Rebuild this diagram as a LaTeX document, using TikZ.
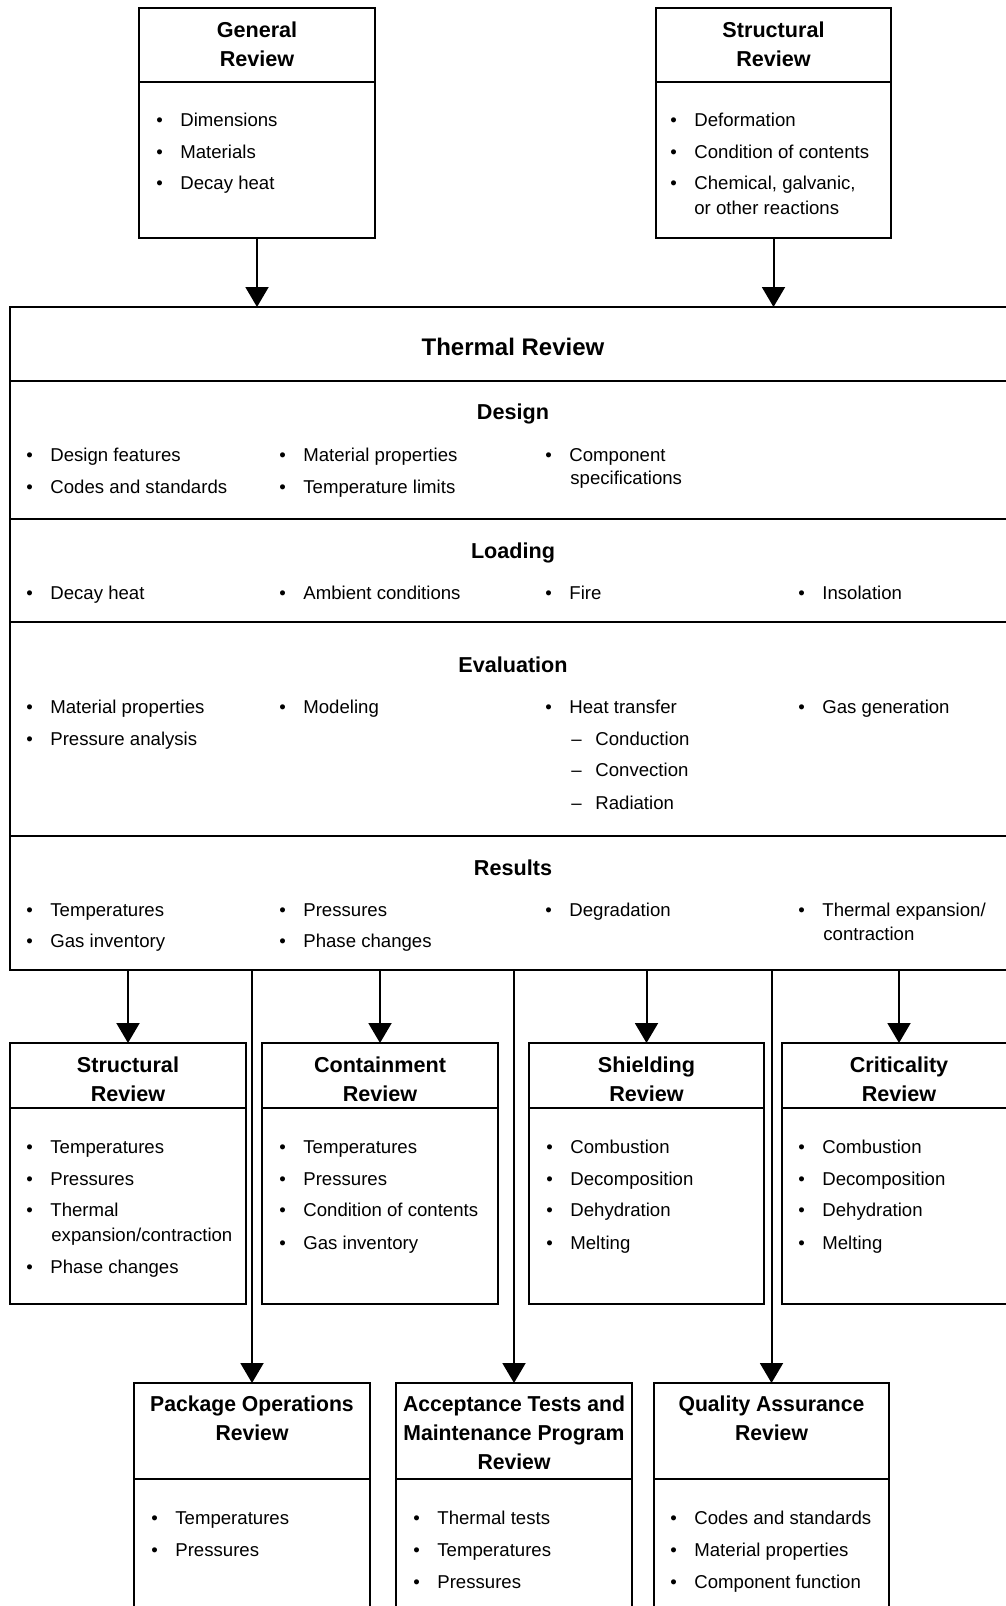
\documentclass[tikz,border=0pt]{standalone}
\usepackage{fontspec}
\setmainfont{Liberation Sans}
\newfontfamily\narrowsans[FakeStretch=0.98]{Liberation Sans}
\usetikzlibrary{arrows.meta}
\newcommand\bitem{\makebox[12pt][l]{\textbullet}}
\newcommand\ditem{\makebox[12pt][l]{\textendash}}
\begin{document}
\begin{tikzpicture}[x=0.5pt,y=-0.5pt,
 box/.style={draw, line width=1.2pt, rectangle, anchor=north west, inner sep=0, outer sep=0},
 hd/.style={anchor=base, inner sep=0, font=\fontsize{10.8}{13}\selectfont\bfseries},
 hdn/.style={anchor=base, inner sep=0, font=\fontsize{10.8}{13}\selectfont\narrowsans\bfseries},
 ttl/.style={anchor=base, inner sep=0, font=\fontsize{12}{14}\selectfont\bfseries},
 it/.style={anchor=base west, inner sep=0, font=\fontsize{9.3}{11}\selectfont},
 div/.style={line width=1.2pt},
 arr/.style={line width=1pt, -{Triangle[width=11.5pt,length=10pt]}},
]
\useasboundingbox (0,0) rectangle (1006,1606);
\clip (0,0) rectangle (1006,1606);
\fill[white] (0,0) rectangle (1006,1606);

% ---------- top boxes ----------
\node[box, minimum width=118pt, minimum height=115pt] (gen) at (139,8) {};
\draw[div] (139,82) -- (375,82);
\node[hd] (genh1) at (257,38) {General};
\node[hd] (genh2) at (257,66) {Review};
\node[it] (gen1) at (156,126) {\bitem Dimensions};
\node[it] (gen2) at (156,158) {\bitem Materials};
\node[it] (gen3) at (156,189) {\bitem Decay heat};

\node[box, minimum width=117.5pt, minimum height=115pt] (str) at (656,8) {};
\draw[div] (656,82) -- (891,82);
\node[hd] (strh1) at (773.5,38) {Structural};
\node[hd] (strh2) at (773.5,66) {Review};
\node[it] (str1) at (670,126) {\bitem Deformation};
\node[it] (str2) at (670,158) {\bitem Condition of contents};
\node[it] (str3) at (670,189) {\bitem Chemical, galvanic,};
\node[it] (str3b) at (694,214) {or other reactions};

% ---------- main thermal box ----------
\node[box, minimum width=503pt, minimum height=331.5pt] (main) at (10,307) {};
\draw[div] (10,381) -- (1016,381);
\draw[div] (10,519) -- (1016,519);
\draw[div] (10,622) -- (1016,622);
\draw[div] (10,836) -- (1016,836);
\node[ttl] (mainh) at (513,355) {Thermal Review};

\node[hd] (desh) at (513,419) {Design};
\node[it] (des1) at (26,461) {\bitem Design features};
\node[it] (des2) at (26,493) {\bitem Codes and standards};
\node[it] (des3) at (279,461) {\bitem Material properties};
\node[it] (des4) at (279,493) {\bitem Temperature limits};
\node[it] (des5) at (545,461) {\bitem Component};
\node[it] (des5b) at (570,484) {specifications};

\node[hd] (loah) at (513,558) {Loading};
\node[it] (loa1) at (26,599) {\bitem Decay heat};
\node[it] (loa2) at (279,599) {\bitem Ambient conditions};
\node[it] (loa3) at (545,599) {\bitem Fire};
\node[it] (loa4) at (798,599) {\bitem Insolation};

\node[hd] (evah) at (513,672) {Evaluation};
\node[it] (eva1) at (26,713) {\bitem Material properties};
\node[it] (eva2) at (26,745) {\bitem Pressure analysis};
\node[it] (eva3) at (279,713) {\bitem Modeling};
\node[it] (eva4) at (545,713) {\bitem Heat transfer};
\node[it] (eva5) at (571,745) {\ditem Conduction};
\node[it] (eva6) at (571,776) {\ditem Convection};
\node[it] (eva7) at (571,809) {\ditem Radiation};
\node[it] (eva8) at (798,713) {\bitem Gas generation};

\node[hd] (resh) at (513,875) {Results};
\node[it] (res1) at (26,916) {\bitem Temperatures};
\node[it] (res2) at (26,947) {\bitem Gas inventory};
\node[it] (res3) at (279,916) {\bitem Pressures};
\node[it] (res4) at (279,947) {\bitem Phase changes};
\node[it] (res5) at (545,916) {\bitem Degradation};
\node[it] (res6) at (798,916) {\bitem Thermal expansion/};
\node[it] (res6b) at (823,940) {contraction};

% ---------- middle boxes ----------
\node[box, minimum width=118pt, minimum height=130.5pt] (ms) at (10,1043) {};
\draw[div] (10,1108) -- (246,1108);
\node[hd] (msh1) at (128,1072) {Structural};
\node[hd] (msh2) at (128,1101) {Review};
\node[it] (ms1) at (26,1153) {\bitem Temperatures};
\node[it] (ms2) at (26,1185) {\bitem Pressures};
\node[it] (ms3) at (26,1216.5) {\bitem Thermal};
\node[it] (ms3b) at (51,1241) {expansion/contraction};
\node[it] (ms4) at (26,1273) {\bitem Phase changes};

\node[box, minimum width=118pt, minimum height=130.5pt] (mc) at (262,1043) {};
\draw[div] (262,1108) -- (498,1108);
\node[hd] (mch1) at (380,1072) {Containment};
\node[hd] (mch2) at (380,1101) {Review};
\node[it] (mc1) at (279,1153) {\bitem Temperatures};
\node[it] (mc2) at (279,1185) {\bitem Pressures};
\node[it] (mc3) at (279,1216.5) {\bitem Condition of contents};
\node[it] (mc4) at (279,1249) {\bitem Gas inventory};

\node[box, minimum width=117.5pt, minimum height=130.5pt] (msh) at (529,1043) {};
\draw[div] (529,1108) -- (764,1108);
\node[hd] (mshh1) at (646.5,1072) {Shielding};
\node[hd] (mshh2) at (646.5,1101) {Review};
\node[it] (msh1) at (546,1153) {\bitem Combustion};
\node[it] (msh2) at (546,1185) {\bitem Decomposition};
\node[it] (msh3) at (546,1216.5) {\bitem Dehydration};
\node[it] (msh4) at (546,1249) {\bitem Melting};

\node[box, minimum width=117pt, minimum height=130.5pt] (mcr) at (782,1043) {};
\draw[div] (782,1108) -- (1016,1108);
\node[hd] (mcrh1) at (899,1072) {Criticality};
\node[hd] (mcrh2) at (899,1101) {Review};
\node[it] (mcr1) at (798,1153) {\bitem Combustion};
\node[it] (mcr2) at (798,1185) {\bitem Decomposition};
\node[it] (mcr3) at (798,1216.5) {\bitem Dehydration};
\node[it] (mcr4) at (798,1249) {\bitem Melting};

% ---------- bottom boxes ----------
\node[box, minimum width=118pt, minimum height=130pt] (bp) at (134,1383) {};
\draw[div] (134,1479) -- (370,1479);
\node[hdn] (bph1) at (252,1411) {Package Operations};
\node[hdn] (bph2) at (252,1440) {Review};
\node[it] (bp1) at (151,1524) {\bitem Temperatures};
\node[it] (bp2) at (151,1556) {\bitem Pressures};

\node[box, minimum width=118pt, minimum height=130pt] (ba) at (396,1383) {};
\draw[div] (396,1479) -- (632,1479);
\node[hdn] (bah1) at (514,1411) {Acceptance Tests and};
\node[hdn] (bah2) at (514,1440) {Maintenance Program};
\node[hdn] (bah3) at (514,1469) {Review};
\node[it] (ba1) at (413,1524) {\bitem Thermal tests};
\node[it] (ba2) at (413,1556) {\bitem Temperatures};
\node[it] (ba3) at (413,1588) {\bitem Pressures};

\node[box, minimum width=117.5pt, minimum height=130pt] (bq) at (654,1383) {};
\draw[div] (654,1479) -- (889,1479);
\node[hdn] (bqh1) at (771.5,1411) {Quality Assurance};
\node[hdn] (bqh2) at (771.5,1440) {Review};
\node[it] (bq1) at (670,1524) {\bitem Codes and standards};
\node[it] (bq2) at (670,1556) {\bitem Material properties};
\node[it] (bq3) at (670,1588) {\bitem Component function};

% ---------- connectors ----------
\draw[arr] (gen.south) -- (gen.south |- main.north);
\draw[arr] (str.south) -- (str.south |- main.north);
\draw[arr] (main.south -| ms.north) -- (ms.north);
\draw[arr] (main.south -| mc.north) -- (mc.north);
\draw[arr] (main.south -| msh.north) -- (msh.north);
\draw[arr] (main.south -| mcr.north) -- (mcr.north);
\draw[arr] (main.south -| bp.north) -- (bp.north);
\draw[arr] (main.south -| ba.north) -- (ba.north);
\draw[arr] (main.south -| bq.north) -- (bq.north);
\end{tikzpicture}
\end{document}
